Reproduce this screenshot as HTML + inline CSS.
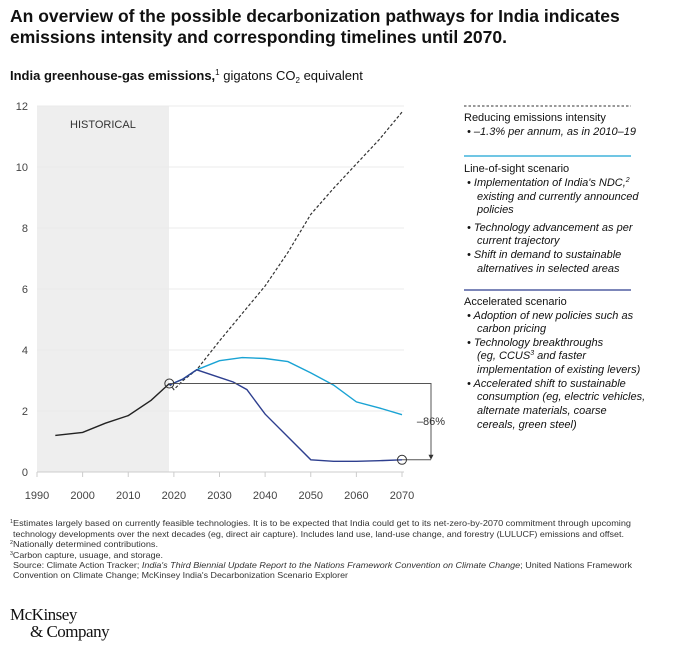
<!DOCTYPE html>
<html><head><meta charset="utf-8"><style>
body{margin:0;background:#fff;width:678px;height:650px;overflow:hidden;font-family:"Liberation Sans",sans-serif;}
</style></head><body>
<svg width="678" height="650" viewBox="0 0 678 650" xmlns="http://www.w3.org/2000/svg" font-family="Liberation Sans, sans-serif">
<text x="10" y="22" font-size="17.5" font-weight="bold" fill="#111">An overview of the possible decarbonization pathways for India indicates</text>
<text x="10" y="43" font-size="17.5" font-weight="bold" fill="#111">emissions intensity and corresponding timelines until 2070.</text>
<text x="10" y="80" font-size="13" fill="#111"><tspan font-weight="bold">India greenhouse-gas emissions,</tspan><tspan font-size="8" dy="-5">1</tspan><tspan dy="5"> gigatons CO</tspan><tspan font-size="8" dy="3">2</tspan><tspan dy="-3"> equivalent</tspan></text>
<rect x="37" y="106" width="132" height="366" fill="#eeeeee"/>
<text x="70" y="128" font-size="11" fill="#333">HISTORICAL</text>
<g id="grid"></g><g id="axes"></g><g id="series"></g>
<text x="431" y="425" font-size="11" text-anchor="middle" fill="#333">–86%</text>
<g font-size="11" fill="#111">
<line x1="464" y1="106" x2="631" y2="106" stroke="#333" stroke-dasharray="2.5,2" stroke-width="1"/>
<text x="464" y="121">Reducing emissions intensity</text>
<text x="467" y="135" font-style="italic">•  <tspan>–1.3% per annum, as in 2010–19</tspan></text>
<line x1="464" y1="156" x2="631" y2="156" stroke="#1aa3d4" stroke-width="1.2"/>
<text x="464" y="172">Line-of-sight scenario</text>
<g font-style="italic">
<text x="467" y="186">•  Implementation of India's NDC,<tspan font-size="7" dy="-4">2</tspan></text>
<text x="477" y="200">existing and currently announced</text>
<text x="477" y="213">policies</text>
<text x="467" y="231">•  Technology advancement as per</text>
<text x="477" y="244">current trajectory</text>
<text x="467" y="258">•  Shift in demand to sustainable</text>
<text x="477" y="272">alternatives in selected areas</text>
</g>
<line x1="464" y1="290" x2="631" y2="290" stroke="#2e3f8f" stroke-width="1.2"/>
<text x="464" y="305">Accelerated scenario</text>
<g font-style="italic">
<text x="467" y="319">•  Adoption of new policies such as</text>
<text x="477" y="332">carbon pricing</text>
<text x="467" y="346">•  Technology breakthroughs</text>
<text x="477" y="359">(eg, CCUS<tspan font-size="7" dy="-4">3</tspan><tspan dy="4"> and faster</tspan></text>
<text x="477" y="373">implementation of existing levers)</text>
<text x="467" y="387">•  Accelerated shift to sustainable</text>
<text x="477" y="400">consumption (eg, electric vehicles,</text>
<text x="477" y="414">alternate materials, coarse</text>
<text x="477" y="428">cereals, green steel)</text>
</g></g>
<g font-size="8.5" fill="#333">
<text x="10" y="526" textLength="621" lengthAdjust="spacingAndGlyphs"><tspan font-size="5" dy="-3">1</tspan><tspan dy="3">Estimates largely based on currently feasible technologies. It is to be expected that India could get to its net-zero-by-2070 commitment through upcoming</tspan></text>
<text x="13" y="537" textLength="611" lengthAdjust="spacingAndGlyphs">technology developments over the next decades (eg, direct air capture). Includes land use, land-use change, and forestry (LULUCF) emissions and offset.</text>
<text x="10" y="547" textLength="148" lengthAdjust="spacingAndGlyphs"><tspan font-size="5" dy="-3">2</tspan><tspan dy="3">Nationally determined contributions.</tspan></text>
<text x="10" y="558" textLength="153" lengthAdjust="spacingAndGlyphs"><tspan font-size="5" dy="-3">3</tspan><tspan dy="3">Carbon capture, usuage, and storage.</tspan></text>
<text x="13" y="568" textLength="619" lengthAdjust="spacingAndGlyphs">Source: Climate Action Tracker; <tspan font-style="italic">India's Third Biennial Update Report to the Nations Framework Convention on Climate Change</tspan>; United Nations Framework</text>
<text x="13" y="578" textLength="335" lengthAdjust="spacingAndGlyphs">Convention on Climate Change; McKinsey India's Decarbonization Scenario Explorer</text>
</g>
<text x="10" y="620" font-family="Liberation Serif, serif" font-size="17" fill="#111" letter-spacing="-0.5">McKinsey</text>
<text x="30" y="637" font-family="Liberation Serif, serif" font-size="17" fill="#111" letter-spacing="-0.5">&amp; Company</text>
</svg>
<script>
const yTicks=[0,2,4,6,8,10,12];
const xTicks=[1990,2000,2010,2020,2030,2040,2050,2060,2070];
const histYears=[1994,2000,2005,2010,2015,2019];
const histValues=[1.2,1.3,1.6,1.85,2.35,2.9];
const intensityYears=[2019,2020,2022,2025,2030,2035,2040,2045,2050,2055,2060,2065,2070];
const intensityValues=[2.9,2.7,3.0,3.35,4.3,5.2,6.1,7.2,8.45,9.3,10.1,10.9,11.8];
const losYears=[2019,2022,2025,2030,2035,2040,2045,2050,2055,2060,2065,2070];
const losValues=[2.85,3.05,3.35,3.65,3.75,3.72,3.62,3.25,2.85,2.3,2.1,1.88];
const accYears=[2019,2022,2025,2030,2033,2036,2040,2045,2050,2055,2060,2065,2070];
const accValues=[2.85,3.05,3.35,3.1,2.95,2.7,1.9,1.15,0.4,0.35,0.35,0.37,0.4];
const NS='http://www.w3.org/2000/svg';
function sx(y){return 37+(y-1990)*(402-37)/80;}
function sy(v){return 472-v*(472-106)/12;}
function mk(t,a,p){const e=document.createElementNS(NS,t);for(const k in a)e.setAttribute(k,a[k]);p.appendChild(e);return e;}
const grid=document.getElementById('grid'),axes=document.getElementById('axes'),ser=document.getElementById('series');
yTicks.forEach(v=>{
 if(v>0){const g=mk('line',{x1:37,x2:404,y1:sy(v),y2:sy(v),stroke:'#ebebeb','stroke-width':1},grid);
 
 }
 const t=mk('text',{x:28,y:sy(v)+4,'font-size':11,'text-anchor':'end',fill:'#444'},axes);t.textContent=v;
 
 
});
const ax=mk('line',{x1:37,x2:404,y1:472,y2:472,stroke:'#ccc','stroke-width':1},axes);


xTicks.forEach(yr=>{
 const tk=mk('line',{x1:sx(yr),x2:sx(yr),y1:472,y2:477,stroke:'#ccc'},axes);
 
 
 const t=mk('text',{x:sx(yr),y:499,'font-size':11,'text-anchor':'middle',fill:'#444'},axes);t.textContent=yr;
 
 
});
function pts(ys,vs){return ys.map((y,i)=>sx(y).toFixed(1)+','+sy(vs[i]).toFixed(1)).join(' ');}
let l;
l=mk('polyline',{points:pts(intensityYears,intensityValues),fill:'none',stroke:'#333','stroke-width':1.2,'stroke-dasharray':'3,2'},ser);


l=mk('polyline',{points:pts(losYears,losValues),fill:'none',stroke:'#1aa3d4','stroke-width':1.4},ser);


l=mk('polyline',{points:pts(accYears,accValues),fill:'none',stroke:'#2e3f8f','stroke-width':1.4},ser);


l=mk('polyline',{points:pts(histYears,histValues),fill:'none',stroke:'#222','stroke-width':1.4},ser);


const hv=histValues[histValues.length-1],hy=histYears[histYears.length-1];
const av=accValues[accValues.length-1],ay=accYears[accYears.length-1];
const bx=431;
const br=mk('polyline',{points:`${sx(hy)},${sy(hv)} ${bx},${sy(hv)} ${bx},${sy(av)-3}`,fill:'none',stroke:'#555','stroke-width':1},ser);


const br2=mk('line',{x1:sx(ay),y1:sy(av),x2:bx,y2:sy(av),stroke:'#555','stroke-width':1},ser);


const ar=mk('polygon',{points:`${bx-2.5},${sy(av)-5} ${bx+2.5},${sy(av)-5} ${bx},${sy(av)}`,fill:'#333'},ser);


[[hy,hv],[ay,av]].forEach(p=>{
 const c=mk('circle',{cx:sx(p[0]),cy:sy(p[1]),r:4.5,fill:'none',stroke:'#333','stroke-width':1},ser);
 
 
});
</script>
</body></html>
